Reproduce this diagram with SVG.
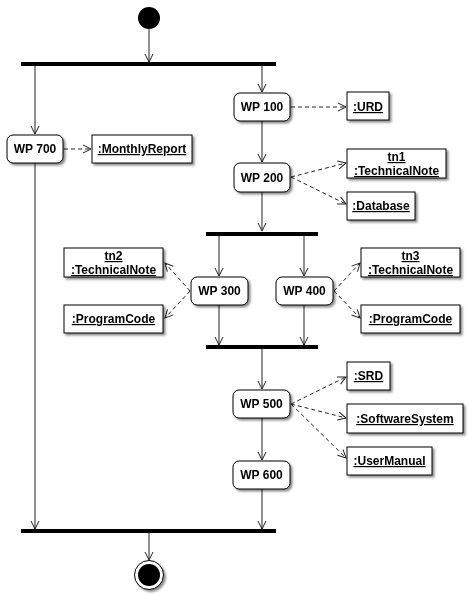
<svg xmlns="http://www.w3.org/2000/svg" width="468" height="596" viewBox="0 0 468 596">
<defs>
<style>
.act{fill:#fff;stroke:#000;stroke-width:1}
.obj{fill:#fff;stroke:#000;stroke-width:1}
.t{font-family:"Liberation Sans",Arial,sans-serif;font-size:12px;font-weight:bold;fill:#000;text-anchor:middle}
.u{text-decoration:underline}
.bar{fill:#000}
.flow{fill:none;stroke:#222;stroke-width:1;marker-end:url(#arr)}
.dep{fill:none;stroke:#222;stroke-width:1;stroke-dasharray:4,3;marker-end:url(#arr)}
</style>
<marker id="arr" viewBox="0 0 10 10" refX="9" refY="5" markerWidth="10" markerHeight="10" markerUnits="userSpaceOnUse" orient="auto">
<path d="M1,1 L9,5 L1,9" fill="none" stroke="#222" stroke-width="1" stroke-dasharray="none"/>
</marker>
<filter id="sh" x="-20%" y="-20%" width="140%" height="150%">
<feDropShadow dx="2" dy="2" stdDeviation="1" flood-color="#000" flood-opacity="0.45"/>
</filter>
</defs>
<rect width="468" height="596" fill="#fff"/>

<g id="connectors">
<path class="flow" d="M149,29 V62"/>
<path class="flow" d="M35,66 V134"/>
<path class="flow" d="M262,66 V92"/>
<path class="flow" d="M262,121 V162"/>
<path class="flow" d="M262,192 V231"/>
<path class="flow" d="M219,236 V276"/>
<path class="flow" d="M304,236 V276"/>
<path class="flow" d="M219,305 V345"/>
<path class="flow" d="M304,305 V345"/>
<path class="flow" d="M262,349 V389"/>
<path class="flow" d="M262,418 V460"/>
<path class="flow" d="M262,489 V529"/>
<path class="flow" d="M35,163 V529"/>
<path class="flow" d="M149,533 V560"/>
<path class="dep" d="M291,107 H346"/>
<path class="dep" d="M64,149 H91"/>
<path class="dep" d="M291,177 L346,163"/>
<path class="dep" d="M291,177 L346,204"/>
<path class="dep" d="M190,291 L165,263"/>
<path class="dep" d="M190,291 L165,318"/>
<path class="dep" d="M334,291 L360,263"/>
<path class="dep" d="M334,291 L360,318"/>
<path class="dep" d="M291,404 L346,377"/>
<path class="dep" d="M291,404 L346,418"/>
<path class="dep" d="M291,404 L346,458"/>
</g>

<g id="start"><circle cx="149" cy="18" r="11" fill="#000"/></g>
<g id="fork1"><rect class="bar" x="21" y="62" width="255" height="4"/></g>
<g id="fork2"><rect class="bar" x="206" y="232" width="112" height="4"/></g>
<g id="join1"><rect class="bar" x="206" y="345" width="112" height="4"/></g>
<g id="join2"><rect class="bar" x="21" y="529" width="255" height="4"/></g>
<g id="end" filter="url(#sh)"><circle cx="149" cy="575" r="14.5" fill="#fff" stroke="#000"/><circle cx="149" cy="575" r="11" fill="#000"/></g>

<g id="wp100" filter="url(#sh)"><rect class="act" x="234" y="93" width="56" height="28" rx="6"/><text class="t" x="262" y="111">WP 100</text></g>
<g id="wp700" filter="url(#sh)"><rect class="act" x="7" y="135" width="56" height="28" rx="6"/><text class="t" x="35" y="153">WP 700</text></g>
<g id="wp200" filter="url(#sh)"><rect class="act" x="234" y="163" width="56" height="29" rx="6"/><text class="t" x="262" y="182">WP 200</text></g>
<g id="wp300" filter="url(#sh)"><rect class="act" x="191" y="277" width="57" height="28" rx="6"/><text class="t" x="219.5" y="295">WP 300</text></g>
<g id="wp400" filter="url(#sh)"><rect class="act" x="276" y="277" width="57" height="28" rx="6"/><text class="t" x="304.5" y="295">WP 400</text></g>
<g id="wp500" filter="url(#sh)"><rect class="act" x="233" y="390" width="57" height="28" rx="6"/><text class="t" x="261.5" y="408">WP 500</text></g>
<g id="wp600" filter="url(#sh)"><rect class="act" x="233" y="461" width="57" height="28" rx="6"/><text class="t" x="261.5" y="479">WP 600</text></g>

<g id="urd" filter="url(#sh)"><rect class="obj" x="347" y="92" width="42" height="28"/><text class="t u" x="368" y="111">:URD</text></g>
<g id="monthlyreport" filter="url(#sh)"><rect class="obj" x="92" y="135" width="100" height="28"/><text class="t u" x="142" y="153">:MonthlyReport</text></g>
<g id="tn1" filter="url(#sh)"><rect class="obj" x="347" y="149" width="99" height="29"/><text class="t u" x="396.5" y="161">tn1</text><text class="t u" x="396.5" y="175">:TechnicalNote</text></g>
<g id="database" filter="url(#sh)"><rect class="obj" x="347" y="192" width="68" height="28"/><text class="t u" x="381" y="210">:Database</text></g>
<g id="tn2" filter="url(#sh)"><rect class="obj" x="64" y="248" width="99" height="29"/><text class="t u" x="113.5" y="260">tn2</text><text class="t u" x="113.5" y="274">:TechnicalNote</text></g>
<g id="programcode1" filter="url(#sh)"><rect class="obj" x="64" y="305" width="99" height="28"/><text class="t u" x="113.5" y="323">:ProgramCode</text></g>
<g id="tn3" filter="url(#sh)"><rect class="obj" x="361" y="248" width="99" height="29"/><text class="t u" x="410.5" y="260">tn3</text><text class="t u" x="410.5" y="274">:TechnicalNote</text></g>
<g id="programcode2" filter="url(#sh)"><rect class="obj" x="361" y="305" width="99" height="28"/><text class="t u" x="410.5" y="323">:ProgramCode</text></g>
<g id="srd" filter="url(#sh)"><rect class="obj" x="347" y="362" width="43" height="28"/><text class="t u" x="368.5" y="380">:SRD</text></g>
<g id="softwaresystem" filter="url(#sh)"><rect class="obj" x="347" y="404" width="116" height="29"/><text class="t u" x="405" y="423">:SoftwareSystem</text></g>
<g id="usermanual" filter="url(#sh)"><rect class="obj" x="347" y="447" width="85" height="28"/><text class="t u" x="389.5" y="465">:UserManual</text></g>
</svg>
